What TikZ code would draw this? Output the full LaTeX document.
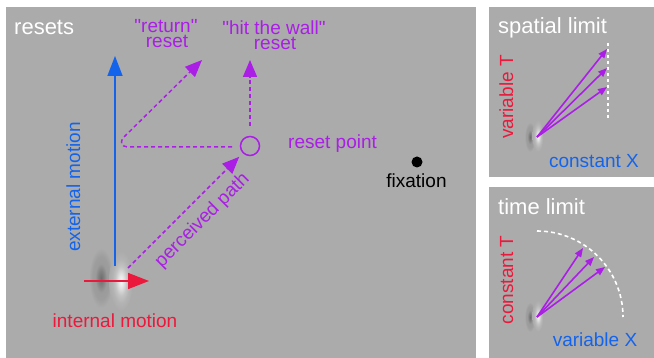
\documentclass[tikz,border=0pt]{standalone}
\usepackage{fontspec}
\setmainfont{Liberation Sans}
\usetikzlibrary{arrows.meta}
\definecolor{bgc}{RGB}{171,171,171}
\definecolor{pur}{RGB}{170,30,230}
\definecolor{blu}{RGB}{20,100,235}
\definecolor{rd}{RGB}{235,25,60}
\definecolor{dk}{RGB}{100,100,100}
\definecolor{wa}{RGB}{250,250,250}
\definecolor{wb}{RGB}{225,225,225}
\definecolor{wc}{RGB}{195,195,195}
\definecolor{da}{RGB}{110,110,110}
\definecolor{db}{RGB}{130,130,130}
\definecolor{dc}{RGB}{155,155,155}
\pgfdeclareradialshading{gaussW}{\pgfpoint{0bp}{0bp}}{color(0bp)=(wa); color(6bp)=(wb); color(12bp)=(wc); color(18bp)=(bgc!90!white); color(25bp)=(bgc); color(50bp)=(bgc)}
\pgfdeclareradialshading{gaussD}{\pgfpoint{0bp}{0bp}}{color(0bp)=(da); color(6bp)=(db); color(12bp)=(dc); color(18bp)=(bgc!92!black); color(25bp)=(bgc); color(50bp)=(bgc)}
\tikzset{
  panel/.style={fill=bgc,draw=none},
  lbl/.style={font=\fontsize{19}{19}\selectfont,inner sep=0pt,anchor=base},
  ttl/.style={font=\fontsize{22}{22}\selectfont,inner sep=0pt,anchor=base west,text=white},
  dsh/.style={draw=pur,line width=1.5pt,dash pattern=on 4pt off 3pt},
  bigtip/.style={-{Triangle[length=17pt,width=14pt]}},
  smallarr/.style={draw=pur,line width=1.6pt,-{Triangle[length=9pt,width=7pt]}},
  whdash/.style={draw=white,line width=1.6pt,dash pattern=on 3pt off 3pt}
}
\begin{document}
\begin{tikzpicture}[x=1pt,y=-1pt]
\useasboundingbox (0,0) rectangle (654,358);
% panels
\fill[panel] (6,7) rectangle (476,358);
\fill[panel] (489,7) rectangle (654,177);
\fill[panel] (489,187) rectangle (654,358);
% titles
\node[ttl] (t1) at (14,35) {resets};
\node[ttl] (t2) at (498,34) {spatial limit};
\node[ttl] (t3) at (498,215) {time limit};
% gabor main
\shade[shading=gaussD] (101,278) ellipse [x radius=12pt,y radius=30pt];
\shade[shading=gaussW] (121,281) ellipse [x radius=12pt,y radius=30pt];
% gabor small
\shade[shading=gaussD] (530,137) ellipse [x radius=5.5pt,y radius=15pt];
\shade[shading=gaussW] (538,136) ellipse [x radius=5.5pt,y radius=16pt];
\shade[shading=gaussD] (530,317) ellipse [x radius=5.5pt,y radius=15pt];
\shade[shading=gaussW] (538,316) ellipse [x radius=5.5pt,y radius=16pt];
% coordinates
\coordinate (ext0) at (115,266);
\coordinate (ext1) at (115,56);
\coordinate (int0) at (84,281);
\coordinate (int1) at (149,281);
\coordinate (pp0) at (128,268);
\node[circle,draw=pur,line width=1.5pt,minimum size=19pt,inner sep=0pt] (rp) at (250,146) {};
\coordinate (hw0) at (250,126);
\coordinate (hw1) at (250,60);
\coordinate (rt0) at (232,147);
\coordinate (rt1) at (202,60);
% blue external
\draw[blu,line width=1.5pt,-{Triangle[length=20pt,width=15pt]}] (ext0) -- (ext1);
% red internal
\draw[rd,line width=1.5pt,-{Triangle[length=21pt,width=16pt]}] (int0) -- (int1);
% perceived path
\draw[dsh,bigtip,shorten >=5pt] (pp0) -- (rp);
% hit the wall
\draw[dsh,bigtip] (hw0) -- (hw1);
% return
\draw[dsh,bigtip] (rt0) -- (130,147) .. controls (120,147) and (119,142) .. (125,136) -- (rt1);
% fixation
\fill[black] (417,162) circle[radius=5.5pt];
\node[lbl] (fx) at (416.5,188) {fixation};
% labels main
\node[lbl,text=pur] (r1) at (166,33) {\textquotedbl return\textquotedbl};
\node[lbl,text=pur] (r2) at (167,48) {reset};
\node[lbl,text=pur] (h1) at (274,35) {\textquotedbl hit the wall\textquotedbl};
\node[lbl,text=pur] (h2) at (275,50) {reset};
\node[lbl,text=pur,anchor=base west] (rpl) at (288,149) {reset point};
\node[lbl,text=blu,rotate=90] (em) at (80,187) {external motion};
\node[lbl,text=rd] (im) at (115,328) {internal motion};
\node[lbl,text=pur,rotate=45] (pl) at (206,224) {perceived path};
% spatial limit panel
\coordinate (g1) at (537,137);
\coordinate (s1) at (607,49);
\coordinate (s2) at (607,68);
\coordinate (s3) at (607,87);
\draw[whdash] (608,43) -- (608,118);
\draw[smallarr] (g1) -- (s1);
\draw[smallarr] (g1) -- (s2);
\draw[smallarr] (g1) -- (s3);
\node[lbl,text=rd,rotate=90] (vt) at (513,97) {variable T};
\node[lbl,text=blu] (cx) at (594,168) {constant X};
% time limit panel
\coordinate (g2) at (537,317);
\coordinate (u1) at (583,248);
\coordinate (u2) at (594,257);
\coordinate (u3) at (605,267);
\draw[whdash,dash pattern=on 4pt off 3pt] (537,231) arc[start angle=90,end angle=0,radius=86pt];
\draw[smallarr] (g2) -- (u1);
\draw[smallarr] (g2) -- (u2);
\draw[smallarr] (g2) -- (u3);
\node[lbl,text=rd,rotate=90] (ct) at (513,280) {constant T};
\node[lbl,text=blu] (vx) at (595,347) {variable X};
\end{tikzpicture}
\end{document}
